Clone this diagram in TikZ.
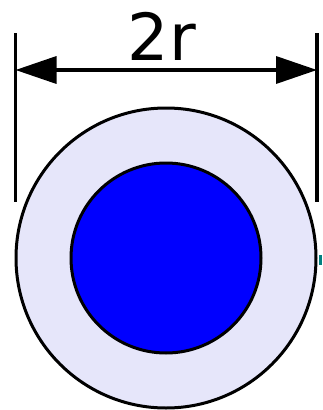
\documentclass[tikz,border=0pt]{standalone}
\usepackage{fontspec}
\setmainfont{DejaVu Sans}
\usetikzlibrary{arrows.meta}
\definecolor{ringfill}{RGB}{230,230,250}
\definecolor{corefill}{RGB}{0,0,255}
\definecolor{tealmark}{RGB}{0,128,128}
\tikzset{
  ring/.style={draw=black, line width=3pt, fill=ringfill},
  core/.style={draw=black, line width=3pt, fill=corefill},
  extline/.style={draw=black, line width=3.5pt},
  dimline/.style={draw=black, line width=3.5pt, {Triangle[length=41pt,width=27pt]}-{Triangle[length=41pt,width=27pt]}},
}
\begin{document}
\begin{tikzpicture}[x=1pt,y=-1pt]
\useasboundingbox (0,0) rectangle (322,410);
\fill[white] (0,0) rectangle (322,410);
\fill[tealmark] (319,255) rectangle (322,265);
\draw[ring] (166,258) circle[radius=150];
\draw[core] (166,258) circle[radius=95];
\coordinate (lt) at (15.5,33);
\coordinate (lb) at (15.5,202);
\coordinate (rt) at (317,33);
\coordinate (rb) at (317,202);
\draw[extline] (lt) -- (lb);
\draw[extline] (rt) -- (rb);
\coordinate (al) at (15.5,70);
\coordinate (ar) at (317,70);
\draw[dimline] (al) -- (ar);
\node[font=\fontsize{65}{65}\selectfont, inner sep=0pt, anchor=base] (lbl) at (162,60.5) {2r};
\end{tikzpicture}
\end{document}
